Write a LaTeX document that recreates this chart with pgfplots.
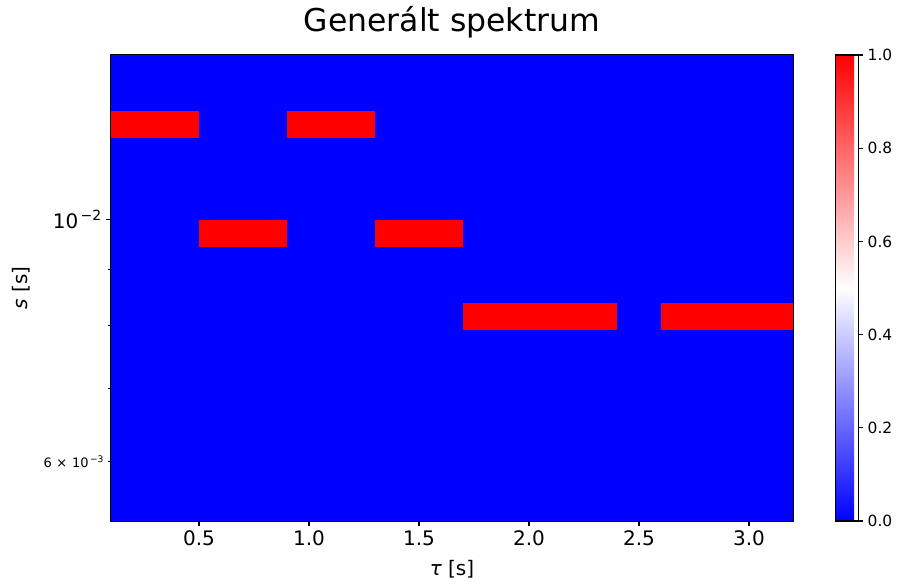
\documentclass[border=0pt]{standalone}
\usepackage{fontspec}
\setmainfont{DejaVu Sans}
\usepackage{pgfplots}
\pgfplotsset{compat=1.18}
\begin{document}
\begin{tikzpicture}
\path[use as bounding box] (0pt,0pt) rectangle (673.5pt,438pt);
\begin{axis}[
  name=main,
  at={(83.25pt,47.25pt)}, anchor=south west,
  scale only axis,
  width=511.5pt, height=349.5pt,
  ymode=log,
  xmin=0.1, xmax=3.2,
  ymin=0.005297, ymax=0.014153,
  axis line style={line width=0.8pt},
  every tick/.style={black, line width=0.8pt},
  tick align=outside,
  xtick pos=bottom, ytick pos=left,
  major tick length=3.7pt, minor tick length=2.1pt,
  xtick={0.5,1.0,1.5,2.0,2.5,3.0},
  xticklabels={0.5,1.0,1.5,2.0,2.5,3.0},
  ytick={0.01},
  yticklabels={10\kern0.12em\raisebox{0.42em}{\fontsize{10.5}{12}\selectfont −2}},
  minor ytick={0.009,0.008,0.007},
  extra y ticks={0.006},
  extra y tick labels={6\hspace{3.5pt}×\hspace{3.5pt}10\kern0.12em\raisebox{0.42em}{\fontsize{6.8}{8}\selectfont −3}},
  extra y tick style={major tick length=2.1pt, yticklabel style={font=\fontsize{9.75}{11}\selectfont}},
  ticklabel style={font=\fontsize{15}{18}\selectfont},
  xlabel={{\itshape τ} [s]},
  ylabel={{\itshape s} [s]},
  label style={font=\fontsize{15}{18}\selectfont},
  xlabel style={at={(axis description cs:0.5,-0.1159)}, anchor=base},
  ylabel style={at={(axis description cs:-0.1224,0.5)}, anchor=base, rotate=0},
  title={Generált spektrum},
  title style={font=\fontsize{23.6}{28}\selectfont, at={(axis description cs:0.5,1.0343)}, anchor=base},
  colormap={bwr}{rgb=(0,0,1) rgb=(1,1,1) rgb=(1,0,0)},
  point meta min=0, point meta max=1,
  colorbar,
  colorbar style={
    at={(parent axis.north east)}, anchor=north west,
    xshift=23pt,
    width=17.25pt,
    xtick=\empty, minor xtick={},
    ytick={0,0.2,0.4,0.6,0.8,1.0},
    yticklabels={0.0,0.2,0.4,0.6,0.8,1.0},
    ytick pos=right, yticklabel pos=right,
    tick align=outside,
    major tick length=3.7pt,
    axis line style={line width=0.8pt},
    every tick/.style={black, line width=0.8pt},
    ticklabel style={font=\fontsize{11.6}{13}\selectfont},
  },
]
\addplot[fill=blue, draw=none] coordinates {(0.1,0.005297) (3.2,0.005297) (3.2,0.014153) (0.1,0.014153)} -- cycle;
% band A
\addplot[fill=red, draw=none] coordinates {(0.1,0.011889) (0.5,0.011889) (0.5,0.012585) (0.1,0.012585)} -- cycle;
\addplot[fill=red, draw=none] coordinates {(0.9,0.011889) (1.3,0.011889) (1.3,0.012585) (0.9,0.012585)} -- cycle;
% band B
\addplot[fill=red, draw=none] coordinates {(0.5,0.009441) (0.9,0.009441) (0.9,0.010000) (0.5,0.010000)} -- cycle;
\addplot[fill=red, draw=none] coordinates {(1.3,0.009441) (1.7,0.009441) (1.7,0.010000) (1.3,0.010000)} -- cycle;
% band C
\addplot[fill=red, draw=none] coordinates {(1.7,0.007931) (2.4,0.007931) (2.4,0.008388) (1.7,0.008388)} -- cycle;
\addplot[fill=red, draw=none] coordinates {(2.6,0.007931) (3.2,0.007931) (3.2,0.008388) (2.6,0.008388)} -- cycle;
\end{axis}
\end{tikzpicture}
\end{document}
